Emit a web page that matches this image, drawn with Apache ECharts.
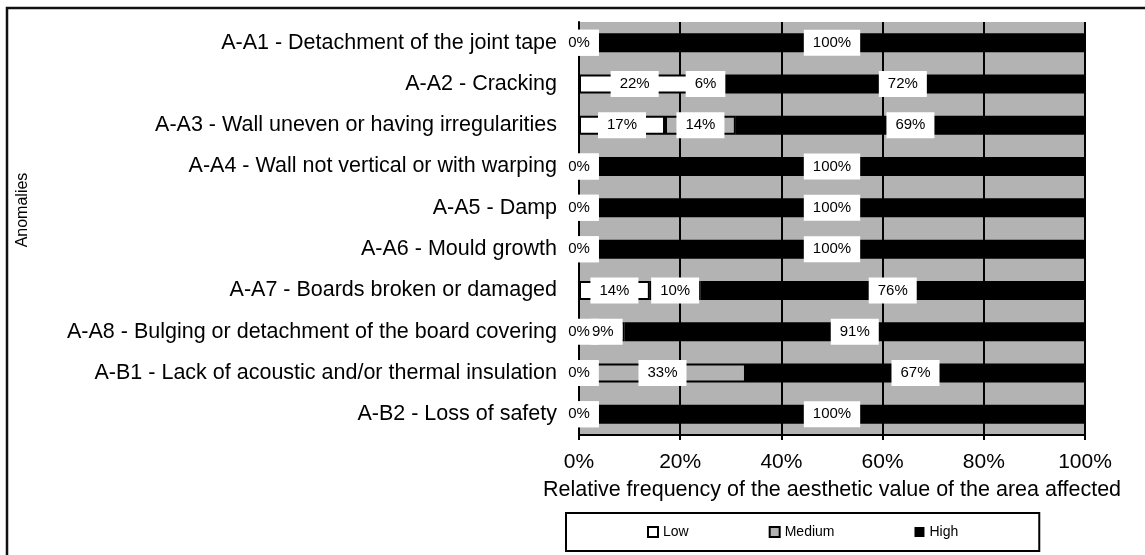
<!DOCTYPE html>
<html>
<head>
<meta charset="utf-8">
<script src="https://cdn.jsdelivr.net/npm/echarts@6/dist/echarts.min.js"></script>
<style>
html,body{margin:0;padding:0;background:#fff;}
#chart{width:1145px;height:555px;}
</style>
</head>
<body>
<div id="chart"></div>
<script>
var categories = [
  'A-A1 - Detachment of the joint tape',
  'A-A2 - Cracking',
  'A-A3 - Wall uneven or having irregularities',
  'A-A4 - Wall not vertical or with warping',
  'A-A5 - Damp',
  'A-A6 - Mould growth',
  'A-A7 - Boards broken or damaged',
  'A-A8 - Bulging or detachment of the board covering',
  'A-B1 - Lack of acoustic and/or thermal insulation',
  'A-B2 - Loss of safety'
];
var lowValues    = [0, 22, 17, 0, 0, 0, 14, 0, 0, 0];
var mediumValues = [0, 6, 14, 0, 0, 0, 10, 9, 33, 0];
var highValues   = [100, 72, 69, 100, 100, 100, 76, 91, 67, 100];
var xTicks = [0, 20, 40, 60, 80, 100];

var FONT = 'Liberation Sans, Arial, sans-serif';
var GRAY = '#b3b3b3';

var labelStyle = {
  show: true,
  position: 'inside',
  formatter: '{c}%',
  color: '#000',
  fontFamily: FONT,
  fontSize: 15,
  lineHeight: 16,
  backgroundColor: '#fff',
  padding: [5, 9]
};

// A small Medium label right next to a zero Low label: nudge it right and trim
// its left padding so the "0%" label stays readable, as in the original chart.
function mediumItems() {
  return mediumValues.map(function (v, i) {
    if (v > 0 && v < 15 && lowValues[i] === 0) {
      return { value: v, label: { padding: [5, 9, 5, 1], offset: [5, 0] } };
    }
    return v;
  });
}

function mkSeries(name, data, fill, border) {
  return {
    name: name,
    type: 'bar',
    stack: 'total',
    data: data,
    barWidth: 19,
    itemStyle: { color: fill, borderColor: border, borderWidth: border ? 2 : 0 },
    label: labelStyle,
    emphasis: { disabled: true }
  };
}

var chart = echarts.init(document.getElementById('chart'), null, { renderer: 'canvas' });
chart.setOption({
  animation: false,
  textStyle: { fontFamily: FONT },
  graphic: [{
    type: 'rect',
    shape: { x: 7, y: 8, width: 1300, height: 700 },
    style: { fill: 'none', stroke: '#111', lineWidth: 2.5 },
    z: 100
  }, {
    type: 'text',
    x: 23, y: 210,
    rotation: Math.PI / 2,
    style: {
      text: 'Anomalies',
      font: '16px ' + FONT,
      fill: '#000',
      align: 'center',
      verticalAlign: 'middle'
    }
  }],
  grid: {
    left: 579, right: 60, top: 22, height: 413,
    show: true, backgroundColor: GRAY, borderWidth: 0
  },
  legend: {
    left: 566, top: 513,
    padding: [12, 81],
    itemGap: 80,
    itemWidth: 10, itemHeight: 10,
    icon: 'rect',
    borderColor: '#000', borderWidth: 2,
    backgroundColor: '#fff',
    textStyle: { fontSize: 14, color: '#000', fontFamily: FONT },
    data: ['Low', 'Medium', 'High']
  },
  xAxis: {
    type: 'value',
    min: xTicks[0], max: xTicks[xTicks.length - 1], interval: 20,
    name: 'Relative frequency of the aesthetic value of the area affected',
    nameLocation: 'middle',
    nameGap: 44,
    nameTextStyle: { fontSize: 21.5, color: '#000', fontFamily: FONT },
    axisLine: { show: true, lineStyle: { color: '#000', width: 2 } },
    axisTick: { show: true, length: 5, lineStyle: { color: '#000', width: 2 } },
    axisLabel: { formatter: '{value}%', fontSize: 21, color: '#000', margin: 17, fontFamily: FONT },
    splitLine: { show: true, lineStyle: { color: '#000', width: 2 } }
  },
  yAxis: {
    type: 'category',
    data: categories,
    inverse: true,
    axisLine: { show: true, lineStyle: { color: '#000', width: 2 } },
    axisTick: { show: false },
    axisLabel: { fontSize: 21.5, color: '#000', margin: 22, fontFamily: FONT },
    splitLine: { show: false }
  },
  series: [
    mkSeries('Low', lowValues, '#fff', '#000'),
    mkSeries('Medium', mediumItems(), GRAY, '#000'),
    mkSeries('High', highValues, '#000', null)
  ]
});
</script>
</body>
</html>
